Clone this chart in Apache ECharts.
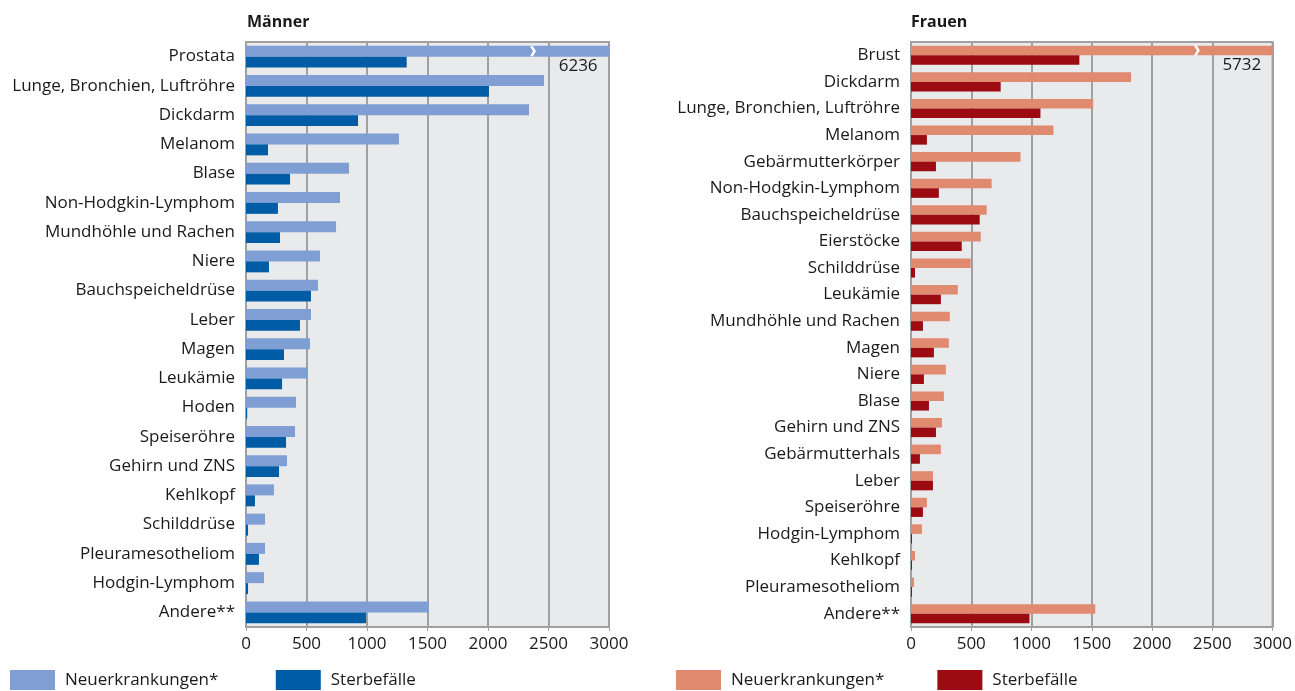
<!DOCTYPE html>
<html>
<head>
<meta charset="utf-8">
<script src="https://cdn.jsdelivr.net/npm/echarts@6/dist/echarts.min.js"></script>
<style>
  html, body { margin: 0; padding: 0; background: #fff; }
  #chart { width: 1295px; height: 691px; }
</style>
</head>
<body>
<div id="chart"></div>
<script>
// Männer
const menCategories = ['Prostata', 'Lunge, Bronchien, Luftröhre', 'Dickdarm', 'Melanom', 'Blase',
  'Non-Hodgkin-Lymphom', 'Mundhöhle und Rachen', 'Niere', 'Bauchspeicheldrüse', 'Leber', 'Magen',
  'Leukämie', 'Hoden', 'Speiseröhre', 'Gehirn und ZNS', 'Kehlkopf', 'Schilddrüse', 'Pleuramesotheliom',
  'Hodgin-Lymphom', 'Andere**'];
const menNew = [6236, 2463, 2339, 1264, 851, 777, 744, 612, 595, 537, 529, 512, 413, 405, 339, 231, 157, 157, 149, 1512];
const menDeaths = [1328, 2008, 926, 182, 364, 264, 281, 190, 537, 446, 314, 298, 10, 331, 273, 74, 17, 107, 17, 992];

// Frauen
const womenCategories = ['Brust', 'Dickdarm', 'Lunge, Bronchien, Luftröhre', 'Melanom', 'Gebärmutterkörper',
  'Non-Hodgkin-Lymphom', 'Bauchspeicheldrüse', 'Eierstöcke', 'Schilddrüse', 'Leukämie',
  'Mundhöhle und Rachen', 'Magen', 'Niere', 'Blase', 'Gehirn und ZNS', 'Gebärmutterhals', 'Leber',
  'Speiseröhre', 'Hodgin-Lymphom', 'Kehlkopf', 'Pleuramesotheliom', 'Andere**'];
const womenNew = [5732, 1826, 1512, 1182, 909, 669, 628, 579, 496, 388, 322, 314, 289, 273, 256, 248, 182, 132, 91, 33, 25, 1529];
const womenDeaths = [1397, 744, 1074, 132, 207, 231, 570, 421, 33, 248, 99, 190, 107, 149, 207, 74, 182, 99, 8, 8, 8, 983];

const xTicks = [0, 500, 1000, 1500, 2000, 2500, 3000];
const axisMax = 3000;
const breakAt = 2372;

const font = '"Open Sans", "Noto Sans", sans-serif';
const chevron = 'path://M0,0 L3,0 L6,5 L3,10 L0,10 L3,5 Z';

const chart = echarts.init(document.getElementById('chart'));

function xAxisFor(idx) {
  return {
    gridIndex: idx,
    type: 'value',
    min: xTicks[0],
    max: axisMax,
    interval: xTicks[1] - xTicks[0],
    axisLine: { show: false },
    axisTick: { show: true, length: 4, lineStyle: { color: '#a0a0a0', width: 1 } },
    axisLabel: { color: '#1a1a1a', fontSize: 17, fontFamily: font, margin: 9, formatter: (v) => String(v) },
    splitLine: { show: true, lineStyle: { color: '#a0a0a0', width: 2 } }
  };
}

function yAxisFor(idx, cats) {
  return {
    gridIndex: idx,
    type: 'category',
    data: cats,
    inverse: true,
    axisLine: { show: false },
    axisTick: { show: false },
    axisLabel: { color: '#1a1a1a', fontSize: 17, fontFamily: font, margin: 11 }
  };
}

function newSeries(idx, name, values, color, gap) {
  const top = values[0];
  return {
    name: name,
    type: 'bar',
    xAxisIndex: idx,
    yAxisIndex: idx,
    data: values,
    barGap: '0%',
    barCategoryGap: gap,
    clip: true,
    itemStyle: { color: color },
    markPoint: {
      silent: true,
      data: [
        {
          coord: [breakAt, 0],
          symbol: chevron,
          symbolSize: [6, 10],
          symbolKeepAspect: false,
          itemStyle: { color: '#ffffff' },
          label: { show: false }
        },
        {
          coord: [2745, 0],
          symbol: 'rect',
          symbolSize: 2,
          itemStyle: { color: 'rgba(0,0,0,0)' },
          label: {
            show: true,
            position: [1, 16],
            align: 'center',
            verticalAlign: 'middle',
            formatter: String(top),
            color: '#1a1a1a',
            fontSize: 17,
            fontFamily: font
          }
        }
      ]
    }
  };
}

function deathSeries(idx, name, values, color, gap) {
  return {
    name: name,
    type: 'bar',
    xAxisIndex: idx,
    yAxisIndex: idx,
    data: values,
    barGap: '0%',
    barCategoryGap: gap,
    itemStyle: { color: color }
  };
}

const gridStyle = {
  show: true,
  backgroundColor: '#e9eaec',
  borderColor: '#a0a0a0',
  borderWidth: 2
};

const legendText = { fontSize: 17, color: '#1a1a1a', fontFamily: font, padding: [0, 0, 0, 5] };

const option = {
  animation: false,
  textStyle: { fontFamily: font },
  title: [
    { text: 'Männer', left: 242, top: 9, textStyle: { fontSize: 16, fontWeight: 'bold', color: '#1a1a1a', fontFamily: font } },
    { text: 'Frauen', left: 906, top: 9, textStyle: { fontSize: 16, fontWeight: 'bold', color: '#1a1a1a', fontFamily: font } }
  ],
  legend: [
    {
      data: ['Neuerkrankungen* ', 'Sterbefälle '],
      left: 10, top: 670, padding: 0,
      itemWidth: 45, itemHeight: 20, itemGap: 53,
      icon: 'rect',
      textStyle: legendText
    },
    {
      data: ['Neuerkrankungen*', 'Sterbefälle'],
      left: 676, top: 670, padding: 0,
      itemWidth: 45, itemHeight: 20, itemGap: 53,
      icon: 'rect',
      textStyle: legendText
    }
  ],
  grid: [
    Object.assign({ left: 246, right: 686, top: 42, bottom: 64 }, gridStyle),
    Object.assign({ left: 911, right: 21, top: 42, bottom: 64 }, gridStyle)
  ],
  xAxis: [xAxisFor(0), xAxisFor(1)],
  yAxis: [yAxisFor(0, menCategories), yAxisFor(1, womenCategories)],
  series: [
    newSeries(0, 'Neuerkrankungen* ', menNew, '#7f9fd4', '25%'),
    deathSeries(0, 'Sterbefälle ', menDeaths, '#005ca5', '25%'),
    newSeries(1, 'Neuerkrankungen*', womenNew, '#e08a70', '28%'),
    deathSeries(1, 'Sterbefälle', womenDeaths, '#9c0a12', '28%')
  ]
};

chart.setOption(option);
</script>
</body>
</html>
